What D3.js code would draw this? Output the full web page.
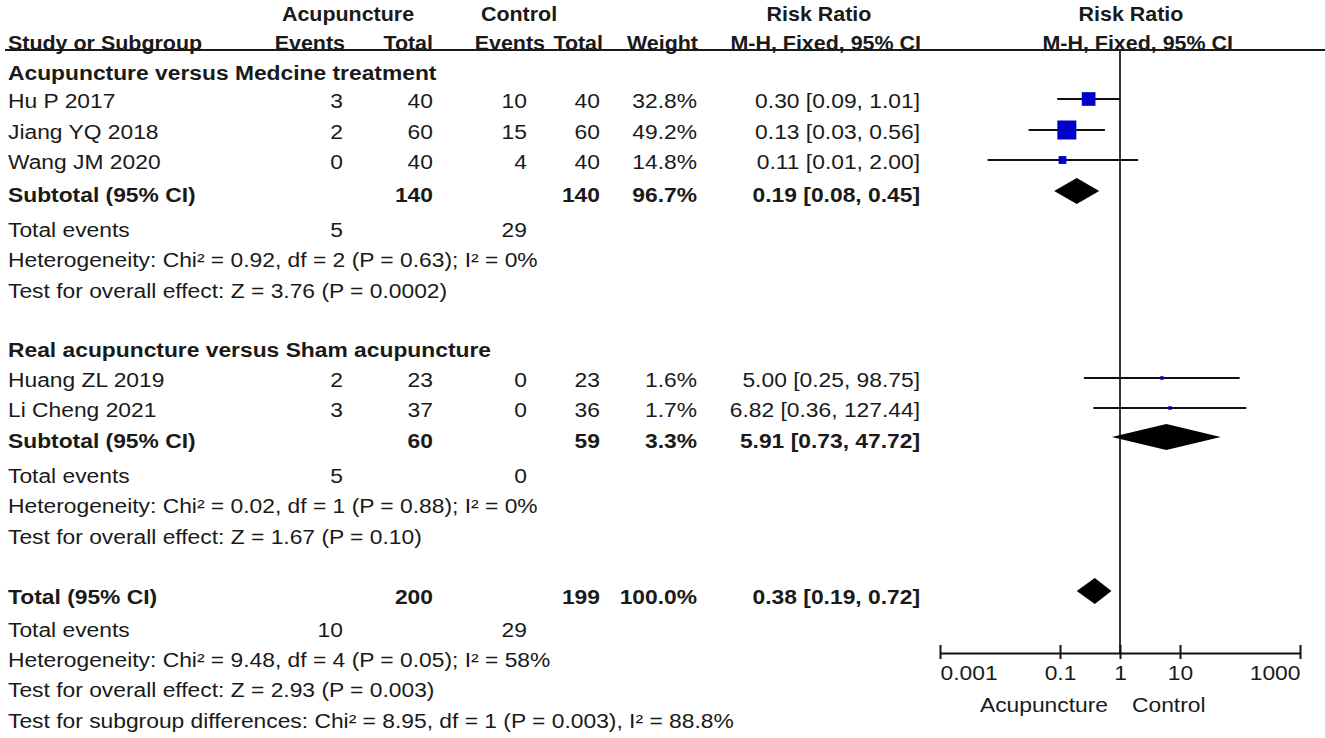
<!DOCTYPE html>
<html>
<head>
<meta charset="utf-8">
<script src="https://cdn.jsdelivr.net/npm/d3@7"></script>
<style>
  html, body { margin: 0; padding: 0; background: #ffffff; }
  svg { display: block; }
  text { font-family: "Liberation Sans", Arial, sans-serif; fill: #1a1a1a; }
</style>
</head>
<body>
<div id="chart"></div>
<script>
// ---------------- data ----------------
const subgroupNames = ["Acupuncture versus Medcine treatment", "Real acupuncture versus Sham acupuncture"];
const studyNames = ["Hu P 2017", "Jiang YQ 2018", "Wang JM 2020", "Huang ZL 2019", "Li Cheng 2021"];
const studyGroup = [0, 0, 0, 1, 1];
const acuEvents = [3, 2, 0, 2, 3];
const acuTotal = [40, 60, 40, 23, 37];
const ctrlEvents = [10, 15, 4, 0, 0];
const ctrlTotal = [40, 60, 40, 23, 36];
const studyWeight = [32.8, 49.2, 14.8, 1.6, 1.7];
const studyRR = [0.30, 0.13, 0.11, 5.00, 6.82];
const studyLow = [0.09, 0.03, 0.0062, 0.25, 0.36];
const studyHigh = [1.01, 0.56, 2.00, 98.75, 127.44];

const subAcuTotal = [140, 60];
const subCtrlTotal = [140, 59];
const subWeight = [96.7, 3.3];
const subRR = [0.19, 5.91];
const subLow = [0.08, 0.73];
const subHigh = [0.45, 47.72];
const subAcuEvents = [5, 5];
const subCtrlEvents = [29, 0];
const subHet = ["Heterogeneity: Chi² = 0.92, df = 2 (P = 0.63); I² = 0%",
                "Heterogeneity: Chi² = 0.02, df = 1 (P = 0.88); I² = 0%"];
const subTest = ["Test for overall effect: Z = 3.76 (P = 0.0002)",
                 "Test for overall effect: Z = 1.67 (P = 0.10)"];

const totalAcu = 200, totalCtrl = 199, totalWeight = 100.0;
const totalRR = 0.38, totalLow = 0.19, totalHigh = 0.72;
const totalAcuEvents = 10, totalCtrlEvents = 29;
const totalNotes = ["Heterogeneity: Chi² = 9.48, df = 4 (P = 0.05); I² = 58%",
                    "Test for overall effect: Z = 2.93 (P = 0.003)",
                    "Test for subgroup differences: Chi² = 8.95, df = 1 (P = 0.003), I² = 88.8%"];

const headerTop = ["Acupuncture", "Control", "Risk Ratio", "Risk Ratio"];
const headerCols = ["Study or Subgroup", "Events", "Total", "Events", "Total", "Weight", "M-H, Fixed, 95% CI", "M-H, Fixed, 95% CI"];
const tickValues = [0.001, 0.1, 1, 10, 1000];
const tickLabels = ["0.001", "0.1", "1", "10", "1000"];
const favourLabels = ["Acupuncture", "Control"];

// ---------------- layout ----------------
const W = 1325, H = 738;
const FS = 19.5, SX = 1.17, SXH = 1.1;
const col = { study: 8, acuEv: 343, acuTot: 433, ctlEv: 527, ctlTot: 600, wt: 697, ci: 920 };
const headTopX = [348, 519, 819, 1131];
const headColX = [8, 345, 433, 545, 603, 698, 921, 1233];
const rowY = {
  sec: [73, 350],
  study: [101, 132, 162, 380, 410],
  sub: [195, 441],
  subEv: [230, 476],
  subHet: [260, 506],
  subTest: [291, 537],
  total: 597,
  totEv: 630,
  totNotes: [660, 690, 721]
};
const axisY = 653;

const svg = d3.select("#chart").append("svg").attr("width", W).attr("height", H);

const x = d3.scaleLog().domain([0.001, 1000]).range([940, 1300]);
const boxSize = d3.scaleLinear().domain([0, 49.2]).range([3, 19]);
const f2 = d3.format(".2f"), f1 = d3.format(".1f");
const ciText = (r, l, h) => `${f2(r)} [${f2(l)}, ${f2(h)}]`;

function txt(xp, yc, s, anchor = "start", bold = false, sx = SX) {
  svg.append("text")
    .attr("transform", `translate(${xp},${yc + 7}) scale(${sx},1)`)
    .attr("text-anchor", anchor)
    .attr("font-size", FS)
    .attr("font-weight", bold ? "bold" : "normal")
    .text(s);
}

// ---------- header ----------
headerTop.forEach((s, i) => txt(headTopX[i], 14, s, "middle", true, SXH));
headerCols.forEach((s, i) => txt(headColX[i], 43, s, i === 0 ? "start" : "end", true, SXH));
svg.append("line").attr("x1", 5).attr("x2", W).attr("y1", 50).attr("y2", 50)
  .attr("stroke", "#1a1a1a").attr("stroke-width", 2);

// ---------- vertical line of no effect ----------
svg.append("line").attr("x1", x(1)).attr("x2", x(1)).attr("y1", 50).attr("y2", axisY)
  .attr("stroke", "#333").attr("stroke-width", 2);

function drawDiamond(lo, est, hi, cy) {
  const h = 13;
  const pts = [[x(lo), cy], [x(est), cy - h], [x(hi), cy], [x(est), cy + h]];
  svg.append("polygon").attr("points", pts.map(p => p.join(",")).join(" ")).attr("fill", "#000");
}

// ---------- sections ----------
subgroupNames.forEach((name, g) => {
  txt(col.study, rowY.sec[g], name, "start", true);
  studyNames.forEach((s, i) => {
    if (studyGroup[i] !== g) return;
    const y = rowY.study[i];
    txt(col.study, y, s);
    txt(col.acuEv, y, acuEvents[i], "end");
    txt(col.acuTot, y, acuTotal[i], "end");
    txt(col.ctlEv, y, ctrlEvents[i], "end");
    txt(col.ctlTot, y, ctrlTotal[i], "end");
    txt(col.wt, y, f1(studyWeight[i]) + "%", "end");
    txt(col.ci, y, ciText(studyRR[i], studyLow[i], studyHigh[i]), "end");
    const my = y - 2;
    svg.append("line").attr("x1", x(studyLow[i])).attr("x2", x(studyHigh[i]))
      .attr("y1", my).attr("y2", my).attr("stroke", "#111").attr("stroke-width", 2);
    const b = boxSize(studyWeight[i]);
    svg.append("rect").attr("x", x(studyRR[i]) - b / 2).attr("y", my - b / 2)
      .attr("width", b).attr("height", b).attr("fill", "#0000c8");
  });
  const sy = rowY.sub[g];
  txt(col.study, sy, "Subtotal (95% CI)", "start", true);
  txt(col.acuTot, sy, subAcuTotal[g], "end", true);
  txt(col.ctlTot, sy, subCtrlTotal[g], "end", true);
  txt(col.wt, sy, f1(subWeight[g]) + "%", "end", true);
  txt(col.ci, sy, ciText(subRR[g], subLow[g], subHigh[g]), "end", true);
  drawDiamond(subLow[g], subRR[g], subHigh[g], sy - 4);
  txt(col.study, rowY.subEv[g], "Total events");
  txt(col.acuEv, rowY.subEv[g], subAcuEvents[g], "end");
  txt(col.ctlEv, rowY.subEv[g], subCtrlEvents[g], "end");
  txt(col.study, rowY.subHet[g], subHet[g]);
  txt(col.study, rowY.subTest[g], subTest[g]);
});

// ---------- total ----------
txt(col.study, rowY.total, "Total (95% CI)", "start", true);
txt(col.acuTot, rowY.total, totalAcu, "end", true);
txt(col.ctlTot, rowY.total, totalCtrl, "end", true);
txt(col.wt, rowY.total, f1(totalWeight) + "%", "end", true);
txt(col.ci, rowY.total, ciText(totalRR, totalLow, totalHigh), "end", true);
drawDiamond(totalLow, totalRR, totalHigh, rowY.total - 6);
txt(col.study, rowY.totEv, "Total events");
txt(col.acuEv, rowY.totEv, totalAcuEvents, "end");
txt(col.ctlEv, rowY.totEv, totalCtrlEvents, "end");
totalNotes.forEach((s, i) => txt(col.study, rowY.totNotes[i], s));

// ---------- axis ----------
const axis = d3.axisBottom(x).tickValues(tickValues).tickFormat((d, i) => tickLabels[i]).tickSizeOuter(0);
const ag = svg.append("g").attr("transform", `translate(0,${axisY})`).call(axis);
ag.select(".domain").attr("stroke", "#111").attr("stroke-width", 2);
ag.selectAll(".tick line").attr("y1", -8).attr("y2", 6).attr("stroke", "#111").attr("stroke-width", 2);
const nT = tickValues.length;
ag.selectAll(".tick text")
  .attr("y", 0).attr("dy", null)
  .attr("text-anchor", (d, i) => i === 0 ? "start" : (i === nT - 1 ? "end" : "middle"))
  .attr("transform", `translate(0,27) scale(${SX},1)`)
  .attr("font-size", FS).attr("fill", "#1a1a1a")
  .style("font-family", '"Liberation Sans", Arial, sans-serif');
txt(x(1) - 12, 705, favourLabels[0], "end");
txt(x(1) + 12, 705, favourLabels[1], "start");
</script>
</body>
</html>
